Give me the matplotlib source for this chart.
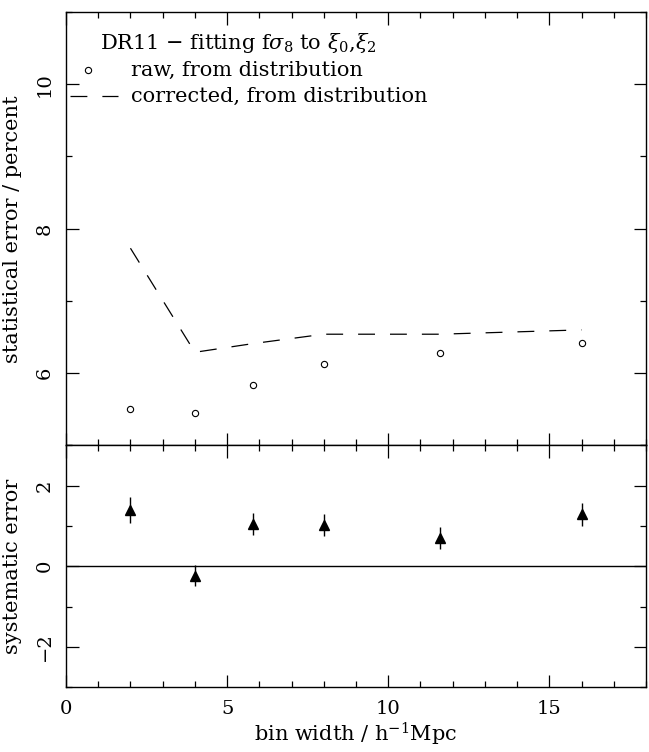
import numpy as np
import matplotlib
matplotlib.use('Agg')
import matplotlib.pyplot as plt
from matplotlib.ticker import MultipleLocator

plt.rcParams['font.family'] = 'DejaVu Serif'
plt.rcParams['mathtext.fontset'] = 'dejavuserif'

# bin widths (h^-1 Mpc)
binw = [2.0, 4.0, 5.8, 8.0, 11.6, 16.0]
# statistical error in percent
raw_err = [5.51, 5.45, 5.84, 6.13, 6.28, 6.42]
corr_err = [7.73, 6.29, 6.41, 6.54, 6.54, 6.60]
# systematic error and its uncertainty
sys_err = [1.40, -0.24, 1.05, 1.03, 0.70, 1.29]
sys_sig = [0.33, 0.26, 0.28, 0.28, 0.28, 0.29]

fig = plt.figure(figsize=(6.49, 7.52), dpi=100)
ax1 = fig.add_axes([0.1017, 0.4076, 0.8937, 0.5765])
ax2 = fig.add_axes([0.1017, 0.0864, 0.8937, 0.3212], sharex=ax1)

dash = (13.5, 12.0)
fs = 15

ax1.plot(binw, raw_err, 'o', mfc='none', mec='k', ms=4.5, mew=0.8)
ax1.plot(binw, corr_err, '-', color='k', lw=0.9, dashes=dash)
ax1.set_xlim(0, 18)
ax1.set_ylim(5, 11)
ax1.yaxis.set_major_locator(MultipleLocator(2))
ax1.yaxis.set_minor_locator(MultipleLocator(1))
ax1.set_ylabel('statistical error / percent', fontsize=fs)
ax1.yaxis.set_label_coords(-0.076, 0.5)
plt.setp(ax1.get_xticklabels(), visible=False)

# legend drawn by hand
ax1.text(0.0586, 0.928, r'DR11 $-$ fitting f$\sigma_8$ to $\xi_0$,$\xi_2$',
         transform=ax1.transAxes, fontsize=fs, va='center', ha='left')
ax1.plot([0.038], [0.866], 'o', mfc='none', mec='k', ms=4.5, mew=0.8,
         transform=ax1.transAxes)
ax1.text(0.112, 0.866, 'raw, from distribution', transform=ax1.transAxes,
         fontsize=fs, va='center', ha='left')
ax1.plot([0.0069, 0.09], [0.806, 0.806], '-', color='k', lw=0.9, dashes=dash,
         transform=ax1.transAxes)
ax1.text(0.112, 0.806, 'corrected, from distribution', transform=ax1.transAxes,
         fontsize=fs, va='center', ha='left')

ax2.errorbar(binw, sys_err, yerr=sys_sig, fmt='^', color='k', ms=7,
             elinewidth=1.0, capsize=0)
ax2.axhline(0, color='k', lw=1.0)
ax2.set_ylim(-3, 3)
ax2.yaxis.set_major_locator(MultipleLocator(2))
ax2.yaxis.set_minor_locator(MultipleLocator(1))
ax2.xaxis.set_major_locator(MultipleLocator(5))
ax2.xaxis.set_minor_locator(MultipleLocator(1))
ax2.set_ylabel('systematic error', fontsize=fs)
ax2.yaxis.set_label_coords(-0.076, 0.5)
ax2.set_xlabel(r'bin width / h$^{-1}$Mpc', fontsize=fs)
ax2.xaxis.set_label_coords(0.5, -0.14)

for ax in (ax1, ax2):
    ax.tick_params(which='both', direction='in', top=True, right=True,
                   width=0.9, labelsize=14, pad=9)
    ax.tick_params(which='major', length=9)
    ax.tick_params(which='minor', length=4.5)
    for lab in ax.get_yticklabels():
        lab.set_rotation(90)
        lab.set_va('center')
    for s in ax.spines.values():
        s.set_linewidth(1.0)

fig.savefig('out.png', dpi=100)
